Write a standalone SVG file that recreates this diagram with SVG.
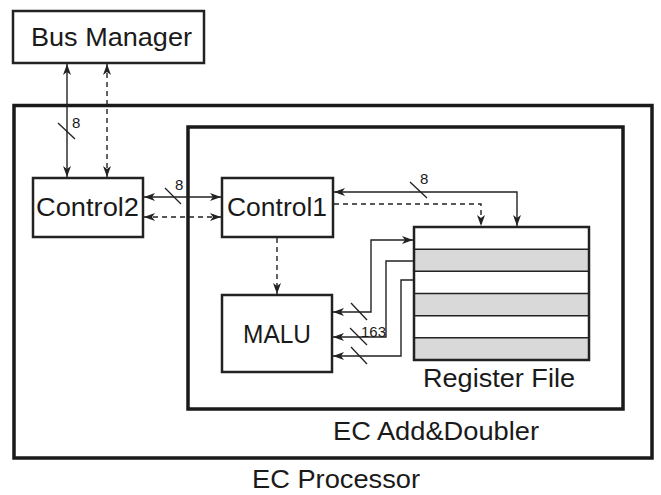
<svg xmlns="http://www.w3.org/2000/svg" width="661" height="495" viewBox="0 0 661 495">
<style>
.box{fill:#fff;stroke:#222;stroke-width:2.5}
.frame{fill:none;stroke:#1a1a1a;stroke-width:3.5}
.t{font-family:"Liberation Sans",Arial,sans-serif;fill:#1a1a1a}
.big{font-size:26px}
.small{font-size:15px}
.ln{fill:none;stroke:#222;stroke-width:1.4}
.ds{fill:none;stroke:#222;stroke-width:1.4;stroke-dasharray:5,4}
.sl{stroke:#222;stroke-width:1.3}
.row{stroke:#222;stroke-width:1.5}
</style>
<defs>
<marker id="ah" markerUnits="userSpaceOnUse" markerWidth="12" markerHeight="10" refX="11" refY="4" orient="auto-start-reverse" viewBox="0 0 12 8">
<path d="M0,0 L11,4 L0,8 L3,4 z" fill="#222"/>
</marker>
</defs>
<rect width="661" height="495" fill="#fff"/>
<g id="ec-processor">
<rect class="frame" x="14" y="105.5" width="638" height="352.5"/>
<text class="t big" x="252" y="488" textLength="168" lengthAdjust="spacingAndGlyphs">EC Processor</text>
</g>
<g id="ec-add-doubler">
<rect class="frame" x="188" y="127" width="435" height="282"/>
<text class="t big" x="333" y="440" textLength="206" lengthAdjust="spacingAndGlyphs">EC Add&amp;Doubler</text>
</g>
<g id="bus-manager">
<rect class="box" x="13" y="11" width="191" height="52"/>
<text class="t big" x="31" y="46" textLength="161" lengthAdjust="spacingAndGlyphs">Bus Manager</text>
</g>
<g id="control2">
<rect class="box" x="33" y="178" width="110" height="59"/>
<text class="t big" x="36" y="216" textLength="103" lengthAdjust="spacingAndGlyphs">Control2</text>
</g>
<g id="control1">
<rect class="box" x="222" y="178" width="111" height="59"/>
<text class="t big" x="227" y="216" textLength="100" lengthAdjust="spacingAndGlyphs">Control1</text>
</g>
<g id="malu">
<rect class="box" x="222" y="295" width="110" height="77"/>
<text class="t big" x="243" y="343" textLength="68" lengthAdjust="spacingAndGlyphs">MALU</text>
</g>
<g id="register-file">
<rect x="414" y="249.2" width="175" height="22.1" fill="#d9d9d9"/>
<rect x="414" y="293.5" width="175" height="22.2" fill="#d9d9d9"/>
<rect x="414" y="337.8" width="175" height="22.2" fill="#d9d9d9"/>
<line class="row" x1="414" y1="249.2" x2="589" y2="249.2"/>
<line class="row" x1="414" y1="271.3" x2="589" y2="271.3"/>
<line class="row" x1="414" y1="293.5" x2="589" y2="293.5"/>
<line class="row" x1="414" y1="315.7" x2="589" y2="315.7"/>
<line class="row" x1="414" y1="337.8" x2="589" y2="337.8"/>
<rect x="414" y="227" width="175" height="133" fill="none" stroke="#222" stroke-width="2.5"/>
<text class="t big" x="423" y="387" textLength="152" lengthAdjust="spacingAndGlyphs">Register File</text>
</g>
<g id="connectors">
<line class="ln" x1="67" y1="64" x2="67" y2="177" marker-start="url(#ah)" marker-end="url(#ah)"/>
<line class="ds" x1="107" y1="64" x2="107" y2="177" marker-start="url(#ah)" marker-end="url(#ah)"/>
<line class="ln" x1="144" y1="197" x2="221" y2="197" marker-start="url(#ah)" marker-end="url(#ah)"/>
<line class="ds" x1="144" y1="217" x2="221" y2="217" marker-start="url(#ah)" marker-end="url(#ah)"/>
<path class="ln" d="M334,192 H517 V226" marker-start="url(#ah)" marker-end="url(#ah)"/>
<path class="ds" d="M334,204 H481 V226" marker-end="url(#ah)"/>
<line class="ds" x1="277" y1="238" x2="277" y2="294" marker-end="url(#ah)"/>
<path class="ln" d="M333,312 H371 V240 H413" marker-start="url(#ah)" marker-end="url(#ah)"/>
<path class="ln" d="M333,337 H386 V261 H414" marker-start="url(#ah)"/>
<path class="ln" d="M333,356 H401 V280 H414" marker-start="url(#ah)"/>
<line class="sl" x1="58" y1="123" x2="75" y2="139"/>
<text class="t small" x="72" y="128">8</text>
<line class="sl" x1="165" y1="188" x2="181" y2="204"/>
<text class="t small" x="175" y="190">8</text>
<line class="sl" x1="410" y1="182" x2="427" y2="198"/>
<text class="t small" x="420" y="184">8</text>
<line class="sl" x1="351" y1="303" x2="367" y2="320"/>
<line class="sl" x1="350" y1="328" x2="367" y2="345"/>
<line class="sl" x1="351" y1="347" x2="367" y2="364"/>
<text class="t small" x="361" y="337" textLength="25" lengthAdjust="spacingAndGlyphs">163</text>
</g>
</svg>
